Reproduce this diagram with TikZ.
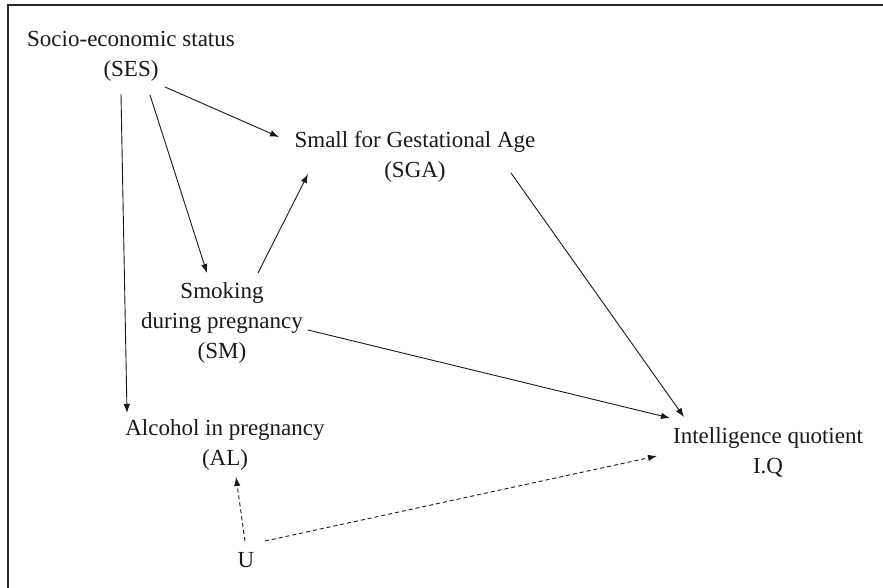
\documentclass[tikz,border=0pt]{standalone}
\usepackage{fontspec}
\setmainfont{Liberation Serif}
\usetikzlibrary{arrows.meta,calc}
\tikzset{
  lbl/.style={align=center,inner sep=0pt,font=\fontsize{23}{30}\selectfont,text=black!90},
  arr/.style={draw=black!90,line width=0.9pt,-{Latex[length=9pt,width=6.5pt]}},
  darr/.style={arr,dash pattern=on 4pt off 3pt},
  frame/.style={draw=black!85,line width=1.8pt}
}
\begin{document}
\begin{tikzpicture}[x=1pt,y=-1pt]
\useasboundingbox (0,0) rectangle (883,588);
\draw[frame] (883,5) -- (8,5) -- (8,588);
\node[lbl] (ses) at (131,56) {Socio-economic status\\(SES)};
\node[lbl] (sga) at (415,157) {Small for Gestational Age\\(SGA)};
\node[lbl] (sm) at (222,323) {Smoking\\during pregnancy\\(SM)};
\node[lbl] (al) at (225,445) {Alcohol in pregnancy\\(AL)};
\node[lbl] (iq) at (768,452) {Intelligence quotient\\I.Q};
\node[lbl] (u) at (246,560) {U};
\draw[arr] ($(ses)+(34,31)$) -- ($(sga)+(-136,-20)$);
\draw[arr] ($(ses)+(19,39)$) -- ($(sm)+(-15,-50)$);
\draw[arr] ($(ses)+(-10,38)$) -- ($(al)+(-98,-32)$);
\draw[arr] ($(sm)+(36,-50)$) -- ($(sga)+(-107,17)$);
\draw[arr] ($(sga)+(96,16)$) -- ($(iq)+(-84,-35)$);
\draw[arr] ($(sm)+(86,7)$) -- ($(iq)+(-98,-34)$);
\draw[darr] ($(u)+(-1,-19)$) -- ($(al)+(11,32)$);
\draw[darr] ($(u)+(19,-19)$) -- ($(iq)+(-111,4)$);
\end{tikzpicture}
\end{document}
